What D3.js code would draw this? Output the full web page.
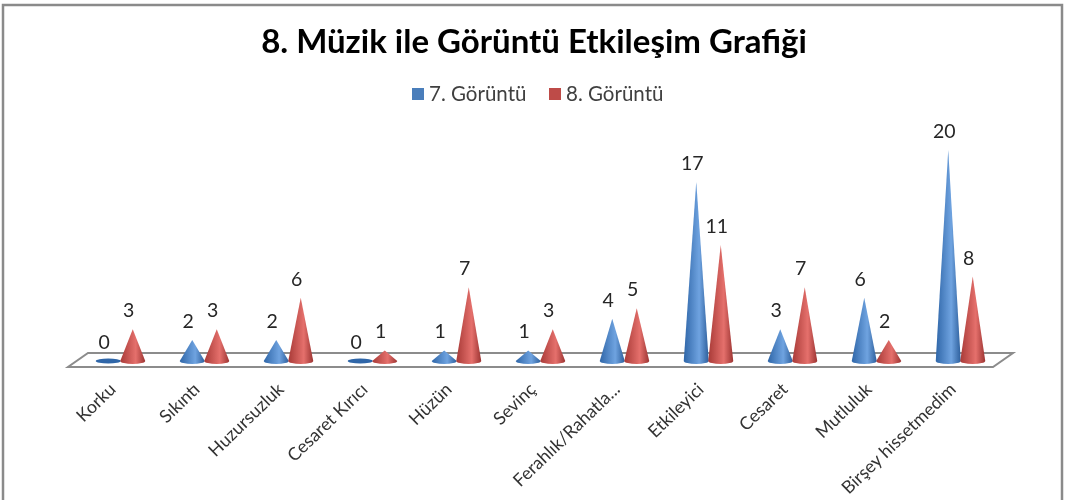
<!DOCTYPE html>
<html>
<head>
<meta charset="utf-8">
<script src="https://cdn.jsdelivr.net/npm/d3@7"></script>
<style>
  html, body { margin: 0; padding: 0; background: #fff; }
  /* the reference is a soft, slightly blurred screenshot */
  svg { display: block; font-family: Lato, "Open Sans", sans-serif; filter: blur(0.5px); }
</style>
</head>
<body>
<div id="chart"></div>
<script>
var categories = ["Korku", "Sıkıntı", "Huzursuzluk", "Cesaret Kırıcı", "Hüzün", "Sevinç",
  "Ferahlık/Rahatla...", "Etkileyici", "Cesaret", "Mutluluk", "Birşey hissetmedim"];
var seriesNames = ["7. Görüntü", "8. Görüntü"];
var goruntu7 = [0, 2, 2, 0, 1, 1, 4, 17, 3, 6, 20];
var goruntu8 = [3, 3, 6, 1, 7, 3, 5, 11, 7, 2, 8];

var width = 1065, height = 500;
var baseY = 361;

var svg = d3.select("#chart").append("svg")
  .attr("width", width)
  .attr("height", height);

// gradients make the cones look round
var defs = svg.append("defs");
function coneGradient(id, edge, light, right) {
  var g = defs.append("linearGradient").attr("id", id);
  g.append("stop").attr("offset", "0%").attr("stop-color", edge);
  g.append("stop").attr("offset", "62%").attr("stop-color", light);
  g.append("stop").attr("offset", "100%").attr("stop-color", right);
}
coneGradient("blueCone", "#2f66a8", "#6fa3e0", "#2d5f9c");
coneGradient("redCone", "#a83a37", "#e5706c", "#9c3432");

// outer frame
svg.append("rect")
  .attr("x", 3).attr("y", 5)
  .attr("width", 1059).attr("height", 500)
  .attr("fill", "#fff")
  .attr("stroke", "#8a8a8a")
  .attr("stroke-width", 2.5);

svg.append("text")
  .attr("x", 534).attr("y", 53)
  .attr("text-anchor", "middle")
  .style("font-size", "33px")
  .style("font-weight", 700)
  .style("fill", "#000")
  .text("8. Müzik ile Görüntü Etkileşim Grafiği");

// legend
var legendColors = ["#4a7ebb", "#be4b48"];
var legendX = [412, 549];
var legend = svg.selectAll(".legendItem").data(seriesNames).enter().append("g")
  .attr("class", "legendItem")
  .attr("transform", function(d, i) { return "translate(" + legendX[i] + ",88)"; });
legend.append("rect")
  .attr("width", 12).attr("height", 12)
  .attr("fill", function(d, i) { return legendColors[i]; });
legend.append("text")
  .attr("x", 17).attr("y", 13)
  .style("font-size", "20.5px")
  .style("fill", "#404040")
  .text(function(d) { return d; });

// floor of the 3d chart
var floor = [[88, 353], [1013, 353], [993, 367], [68, 367]];
svg.append("path")
  .attr("d", d3.line()(floor) + "Z")
  .attr("fill", "#fff")
  .attr("stroke", "#8c8c8c")
  .attr("stroke-width", 2);

var x = d3.scaleBand()
  .domain(categories)
  .range([78.5, 1002.5]);

var y = d3.scaleLinear()
  .domain([0, 20])
  .range([baseY, 150]);

var inner = d3.scaleBand()
  .domain(seriesNames)
  .range([0, x.bandwidth()])
  .paddingInner(0)
  .paddingOuter(0.714);

var halfWidth = 12.5, baseRy = 3;

var series = [
  { name: seriesNames[0], values: goruntu7, fill: "url(#blueCone)", flat: "#2f66a8" },
  { name: seriesNames[1], values: goruntu8, fill: "url(#redCone)", flat: "#a83a37" }
];

var points = [];
series.forEach(function(s) {
  s.values.forEach(function(v, i) {
    points.push({
      value: v,
      fill: s.fill,
      flat: s.flat,
      cx: x(categories[i]) + inner(s.name) + inner.bandwidth() / 2
    });
  });
});

var cones = svg.selectAll(".cone").data(points).enter().append("g").attr("class", "cone");

cones.append("path")
  .attr("d", function(d) {
    if (d.value === 0) return null;
    return "M" + (d.cx - halfWidth) + "," + baseY
      + "L" + d.cx + "," + y(d.value)
      + "L" + (d.cx + halfWidth) + "," + baseY
      + "A" + halfWidth + "," + baseRy + " 0 0 1 " + (d.cx - halfWidth) + "," + baseY + "Z";
  })
  .attr("fill", function(d) { return d.fill; });

cones.filter(function(d) { return d.value === 0; }).append("ellipse")
  .attr("cx", function(d) { return d.cx; })
  .attr("cy", baseY)
  .attr("rx", halfWidth)
  .attr("ry", baseRy - 0.5)
  .attr("fill", function(d) { return d.flat; });

cones.append("text")
  .attr("x", function(d) { return d.cx - 4; })
  .attr("y", function(d) { return y(d.value) - 12; })
  .attr("text-anchor", "middle")
  .style("font-size", "19.5px")
  .style("fill", "#262626")
  .text(function(d) { return d.value; });

// category labels
var axis = svg.append("g")
  .attr("transform", "translate(-11,383)")
  .call(d3.axisBottom(x).tickSize(0).tickPadding(0));
axis.select(".domain").remove();
axis.selectAll("text")
  .attr("text-anchor", "end")
  .attr("dy", "0.6em")
  .attr("transform", "rotate(-44)")
  .style("font-family", "Lato, 'Open Sans', sans-serif")
  .style("font-size", "17.8px")
  .style("fill", "#333");
</script>
</body>
</html>
